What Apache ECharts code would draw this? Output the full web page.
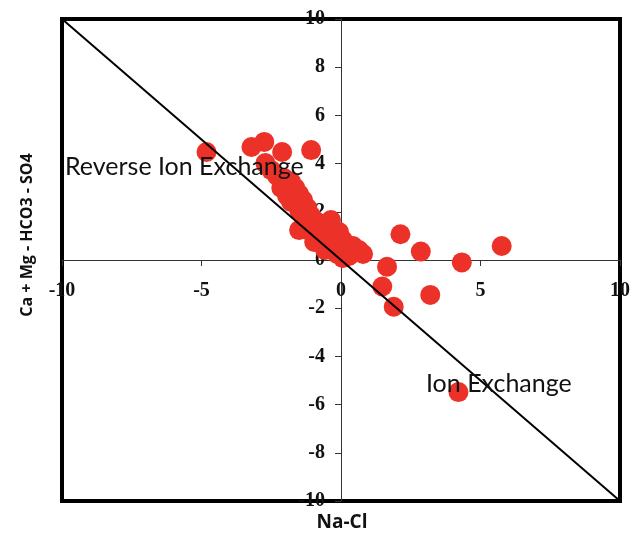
<!DOCTYPE html>
<html>
<head>
<meta charset="utf-8">
<script src="https://cdn.jsdelivr.net/npm/echarts@6/dist/echarts.min.js"></script>
<style>
  html, body { margin: 0; padding: 0; background: #fff; }
  #chart { width: 633px; height: 554px; }
</style>
</head>
<body>
<div id="chart"></div>
<script>
// Na-Cl (x) against Ca + Mg - HCO3 - SO4 (y), in meq/L
const naCl = [
  -4.82, -3.21, -2.75, -2.11, -1.07,
  -2.71, -2.50, -2.29, -2.04, -1.79, -2.14, -1.64, -1.50, -1.93, -1.79,
  -1.36, -1.50, -1.21, -1.07, -0.86, -1.29, -1.07, -0.71, -0.50, -0.29,
  -0.79, -0.50, -0.14, 0.07, 0.21, 0.43, 0.64, 0.79, 0.29, -0.14,
  -0.57, -0.96, -0.07, -0.36, -1.50, 0.07,
  2.13, 2.86, 5.76, 4.33, 1.65, 1.48, 1.89, 3.20, 4.21
];
const caMgHco3So4 = [
  4.48, 4.69, 4.90, 4.48, 4.56,
  4.02, 3.73, 3.49, 3.40, 3.24, 2.99, 2.99, 2.74, 2.66, 2.41,
  2.49, 2.07, 2.16, 1.83, 1.58, 1.58, 1.16, 1.16, 1.33, 1.00,
  0.83, 0.66, 0.66, 0.83, 0.50, 0.58, 0.41, 0.25, 0.17, 0.25,
  0.41, 0.75, 1.16, 1.66, 1.24, 0.08,
  1.07, 0.35, 0.58, -0.10, -0.28, -1.10, -1.94, -1.45, -5.48
];
// 1:1 reference line y = -x
const refLineX = [-10, 10];
const refLineY = [10, -10];
const axisMin = -10, axisMax = 10, xStep = 5, yStep = 2;

const points = naCl.map((x, i) => [x, caMgHco3So4[i]]);
const refLine = refLineX.map((x, i) => [x, refLineY[i]]);

const chart = echarts.init(document.getElementById('chart'), null, { renderer: 'canvas' });
const tickFont = { fontFamily: 'Liberation Serif', fontWeight: 'bold', fontSize: 20, color: '#111' };

const option = {
  animation: false,
  grid: { left: 62, right: 11, top: 19, bottom: 53, show: true, borderColor: '#000', borderWidth: 4, backgroundColor: 'transparent' },
  xAxis: {
    type: 'value', min: axisMin, max: axisMax, interval: xStep, offset: 0,
    splitLine: { show: false },
    axisLine: { onZero: false, lineStyle: { color: '#333', width: 1 } },
    axisTick: { show: true, length: 6, lineStyle: { color: '#333' } },
    axisLabel: Object.assign({ margin: 21, showMinLabel: true, showMaxLabel: true }, tickFont)
  },
  yAxis: {
    type: 'value', min: axisMin, max: axisMax, interval: yStep, offset: 0,
    splitLine: { show: false },
    axisLine: { onZero: false, lineStyle: { color: '#333', width: 1 } },
    axisTick: { show: true, length: 6, lineStyle: { color: '#333' } },
    axisLabel: Object.assign({ margin: 16, showMinLabel: true, showMaxLabel: true }, tickFont)
  },
  series: [
    {
      type: 'scatter', data: points, symbol: 'circle', symbolSize: 20,
      itemStyle: { color: '#ec3228', opacity: 1 }, z: 2
    },
    {
      type: 'line', data: refLine, symbol: 'none',
      lineStyle: { color: '#000', width: 2 }, z: 3
    }
  ],
  graphic: [
    { type: 'text', left: 65, top: 154, z: 10,
      style: { text: 'Reverse Ion Exchange', font: '25px Lato', fill: '#111' } },
    { type: 'text', left: 426, top: 371, z: 10,
      style: { text: 'Ion Exchange', font: '25px Lato', fill: '#111' } },
    { type: 'text', x: 342, y: 523, z: 10,
      style: { text: 'Na-Cl', font: 'bold 19px "Open Sans"', fill: '#111', align: 'center', verticalAlign: 'middle' } },
    { type: 'text', x: 27, y: 235, rotation: Math.PI / 2, z: 10,
      style: { text: 'Ca + Mg - HCO3 - SO4', font: 'bold 16px "Open Sans"', fill: '#111', align: 'center', verticalAlign: 'middle' } }
  ]
};
chart.setOption(option);

// Put both axes (line, ticks and labels) through the origin
const origin = chart.convertToPixel({ gridIndex: 0 }, [0, 0]);
const corner = chart.convertToPixel({ gridIndex: 0 }, [axisMin, axisMin]);
chart.setOption({
  xAxis: { offset: origin[1] - corner[1] },
  yAxis: { offset: corner[0] - origin[0] }
});
</script>
</body>
</html>
